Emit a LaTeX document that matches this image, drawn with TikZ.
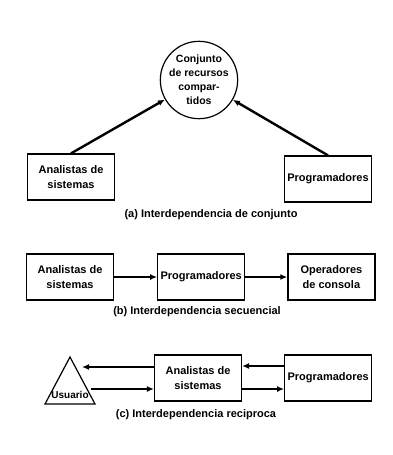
\documentclass[tikz,border=0pt]{standalone}
\usepackage{fontspec}
\setmainfont{Liberation Sans}
\usetikzlibrary{positioning,arrows.meta,shapes.geometric}

\begin{document}
\begin{tikzpicture}[x=1pt,y=-1pt,->,>={Latex[length=7pt,width=6pt]},
		caja/.style={draw, line width=1.2pt, minimum width=87pt, minimum height=46pt, inner sep=1pt, align=center, font=\fontsize{11}{14.5}\selectfont\bfseries},
		flecha/.style={line width=2.4pt},
		pie/.style={font=\fontsize{11}{13}\selectfont\bfseries}]
			\useasboundingbox (0,0) rectangle (393,455);
			\node (res) [draw, circle, line width=1.2pt, minimum size=67pt, inner sep=0pt, align=center, font=\fontsize{10.5}{14}\selectfont\bfseries] at (199,80) {Conjunto\\de recursos\\compar-\\tidos};
			\node (ana1) [caja] at (71,177) {Analistas de\\sistemas};
			\node (prog1) [caja] at (328,179) {Programadores};
			\node (capa) [pie] at (211,215) {(a) Interdependencia de conjunto};
			\node (ana2) [caja] at (70,277) {Analistas de\\sistemas};
			\node (prog2) [caja, right=43pt of ana2] {Programadores};
			\node (oper) [caja, right=42pt of prog2] {Operadores\\de consola};
			\node (capb) [pie] at (197,312) {(b) Interdependencia secuencial};
			\node (usr) [draw, isosceles triangle, shape border rotate=90, isosceles triangle stretches, minimum width=50pt, minimum height=47pt, inner sep=0pt, line width=1.2pt] at (70,389) {};
			\node (usrtxt) [pie, font=\fontsize{10}{13}\selectfont\bfseries, anchor=south] at ([yshift=2pt]usr.lower side) {Usuario};
			\node (ana3) [caja] at (198,378) {Analistas de\\sistemas};
			\node (prog3) [caja, right=42pt of ana3] {Programadores};
			\node (capc) [pie] at (196,415) {(c) Interdependencia reciproca};
			\draw [flecha] (ana1.north) -> (res);
			\draw [flecha] (prog1.north) -> (res);
			\draw [flecha] (ana2) -> (prog2);
			\draw [flecha, line width=1.8pt] (prog2) -> (oper);
			\draw [flecha, shorten >=12pt] ([yshift=11pt]ana3.west) -> ([yshift=11pt]ana3.west -| usr.apex);
			\draw [flecha, shorten <=21pt] ([yshift=-11pt]ana3.west -| usr.apex) -> ([yshift=-11pt]ana3.west);
			\draw [flecha] ([yshift=12pt]prog3.west) -> ([yshift=12pt]ana3.east);
			\draw [flecha] ([yshift=-11pt]ana3.east) -> ([yshift=-11pt]prog3.west);
		\end{tikzpicture}
\end{document}
